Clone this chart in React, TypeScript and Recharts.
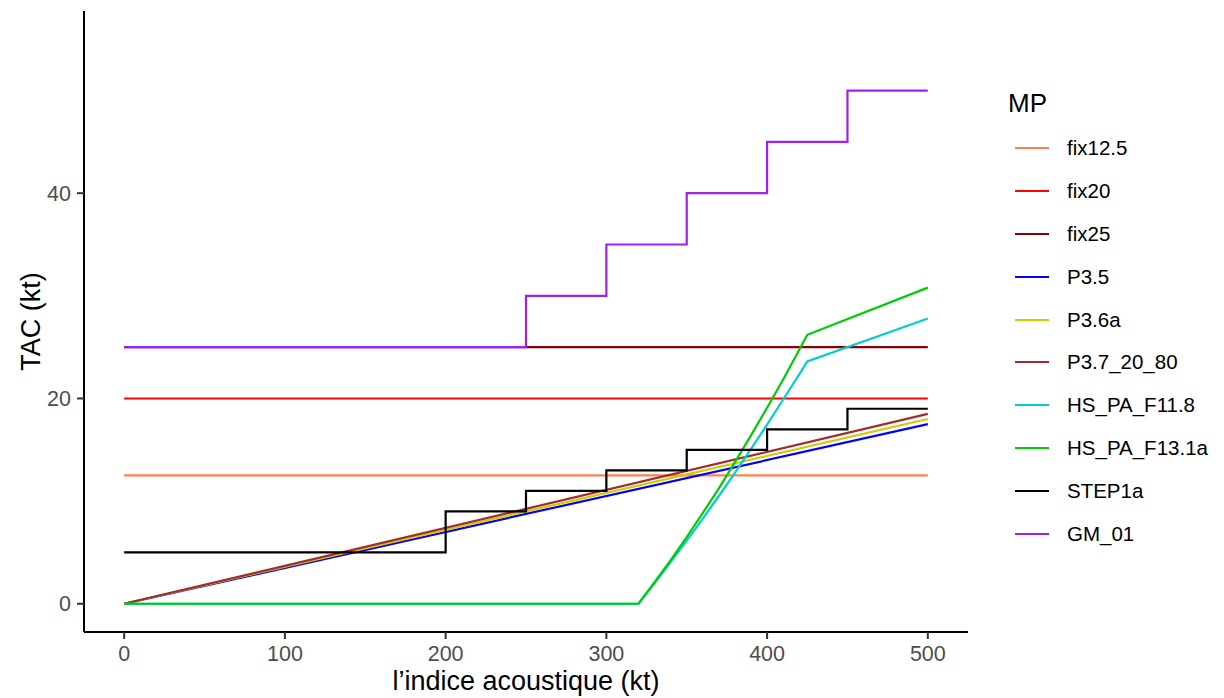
import { LineChart, Line, XAxis, YAxis, Legend } from 'recharts';

const FONT = '"Liberation Sans", Arial, sans-serif';

// x grids and values
const FLAT_X = [0, 500];
const FIX12_5_Y = [12.5, 12.5];
const FIX20_Y = [20, 20];
const FIX25_Y = [25, 25];
const P3_5_Y = [0, 17.5];
const P3_6A_Y = [0, 18];
const P3_7_Y = [0, 18.5];

const HS_X = [0, 320, 330, 340, 350, 360, 370, 380, 390, 400, 410, 420, 425, 500];
const HS11_Y = [0, 0, 2.0, 4.05, 6.15, 8.3, 10.5, 12.75, 15.1, 17.45, 19.9, 22.35, 23.6, 27.8];
const HS13_Y = [0, 0, 2.1, 4.25, 6.5, 8.85, 11.25, 13.8, 16.4, 19.1, 21.85, 24.75, 26.2, 30.8];

const STEP_X = [0, 200, 250, 300, 350, 400, 450, 500];
const STEP_Y = [5, 9, 11, 13, 15, 17, 19, 19];
const GM_X = [0, 250, 300, 350, 400, 450, 500];
const GM_Y = [25, 30, 35, 40, 45, 50, 50];

const X_TICKS = [0, 100, 200, 300, 400, 500];
const Y_TICKS = [0, 20, 40];

const zip = (xs: number[], ys: number[]) => xs.map((x, i) => ({ x, y: ys[i] }));

const SERIES = [
  { name: 'fix12.5', color: '#FF7F50', data: zip(FLAT_X, FIX12_5_Y), type: 'linear' },
  { name: 'fix20', color: '#FF0000', data: zip(FLAT_X, FIX20_Y), type: 'linear' },
  { name: 'fix25', color: '#8B0000', data: zip(FLAT_X, FIX25_Y), type: 'linear' },
  { name: 'P3.5', color: '#0000FF', data: zip(FLAT_X, P3_5_Y), type: 'linear' },
  { name: 'P3.6a', color: '#CDCD00', data: zip(FLAT_X, P3_6A_Y), type: 'linear' },
  { name: 'P3.7_20_80', color: '#A52A2A', data: zip(FLAT_X, P3_7_Y), type: 'linear' },
  { name: 'HS_PA_F11.8', color: '#00CED1', data: zip(HS_X, HS11_Y), type: 'linear' },
  { name: 'HS_PA_F13.1a', color: '#00CD00', data: zip(HS_X, HS13_Y), type: 'linear' },
  { name: 'STEP1a', color: '#000000', data: zip(STEP_X, STEP_Y), type: 'stepAfter' },
  { name: 'GM_01', color: '#A020F0', data: zip(GM_X, GM_Y), type: 'stepAfter' },
];

const tickStyle = { fill: '#4D4D4D', fontSize: 21.5, fontFamily: FONT };

// ggplot-style legend, kept in factor order (not sorted)
const MpLegend = () => (
  <div style={{ position: 'relative', width: 230, height: 560, fontFamily: FONT }}>
    <div
      style={{
        position: 'absolute',
        left: 18,
        top: 90,
        fontSize: 26,
        lineHeight: '26px',
        color: '#000',
      }}
    >
      MP
    </div>
    {SERIES.map((s, i) => (
      <div
        key={s.name}
        style={{
          position: 'absolute',
          left: 25,
          top: 148.3 + i * 42.8 - 20,
          height: 40,
          display: 'flex',
          alignItems: 'center',
        }}
      >
        <svg width={34} height={6} style={{ display: 'block' }}>
          <line x1={0} y1={3} x2={34} y2={3} stroke={s.color} strokeWidth={2.2} />
        </svg>
        <span style={{ marginLeft: 18, fontSize: 20.5, color: '#000', whiteSpace: 'nowrap' }}>
          {s.name}
        </span>
      </div>
    ))}
  </div>
);

export default function App() {
  return (
    <div style={{ position: 'absolute', left: 0, top: 0, background: '#fff' }}>
      <LineChart
        width={1224}
        height={698}
        margin={{ top: 11, right: 256, left: 0, bottom: 0 }}
      >
        <XAxis
          dataKey="x"
          type="number"
          domain={[-25, 525]}
          ticks={X_TICKS}
          allowDataOverflow
          height={66}
          axisLine={{ stroke: '#000', strokeWidth: 2 }}
          tickLine={{ stroke: '#333', strokeWidth: 2 }}
          tickSize={7}
          tickMargin={7}
          tick={tickStyle}
          label={{
            value: 'l\u2019indice acoustique (kt)',
            position: 'insideBottom',
            offset: 8,
            style: { fill: '#000', fontSize: 27, fontFamily: FONT },
          }}
        />
        <YAxis
          type="number"
          domain={[-2.75, 57.75]}
          ticks={Y_TICKS}
          allowDataOverflow
          width={84}
          axisLine={{ stroke: '#000', strokeWidth: 2 }}
          tickLine={{ stroke: '#333', strokeWidth: 2 }}
          tickSize={7}
          tickMargin={6}
          tick={tickStyle}
          label={{
            value: 'TAC (kt)',
            angle: -90,
            position: 'insideLeft',
            offset: 30,
            style: { fill: '#000', fontSize: 27, fontFamily: FONT, textAnchor: 'middle' },
          }}
        />
        <Legend
          layout="vertical"
          align="center"
          verticalAlign="middle"
          wrapperStyle={{ left: 990, top: 0, width: 230 }}
          content={<MpLegend />}
        />
        {SERIES.map((s) => (
          <Line
            key={s.name}
            name={s.name}
            data={s.data}
            dataKey="y"
            type={s.type as any}
            stroke={s.color}
            strokeWidth={2.2}
            dot={false}
            activeDot={false}
            legendType="line"
            isAnimationActive={false}
          />
        ))}
      </LineChart>
    </div>
  );
}
